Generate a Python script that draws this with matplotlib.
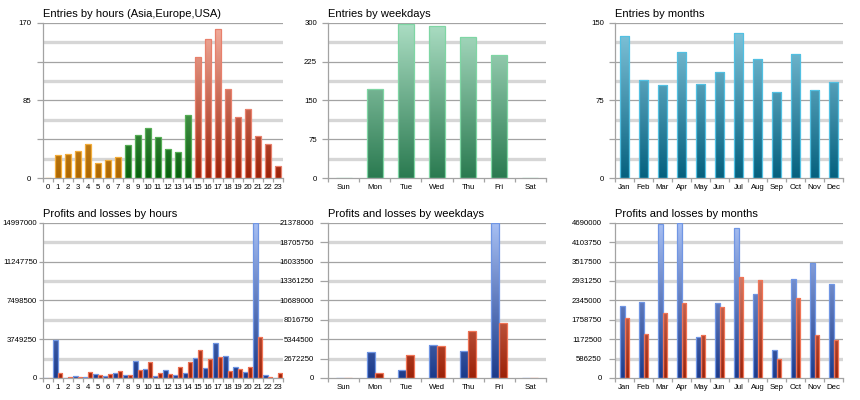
import numpy as np
import matplotlib
matplotlib.use("Agg")
import matplotlib.pyplot as plt
from matplotlib.colors import LinearSegmentedColormap

plt.rcParams['font.family'] = ['Liberation Sans', 'DejaVu Sans']

# ---------------- data ----------------
hours = [str(h) for h in range(24)]
hour_session = ['Asia'] * 8 + ['Europe'] * 7 + ['USA'] * 9
entries_by_hour = [0, 25, 26, 30, 37, 16, 20, 23, 36, 47, 55, 45, 32, 28, 69,
                   132, 152, 163, 97, 67, 75, 46, 37, 13]

weekdays = ['Sun', 'Mon', 'Tue', 'Wed', 'Thu', 'Fri', 'Sat']
entries_by_weekday = [0, 171, 297, 294, 273, 237, 0]

months = ['Jan', 'Feb', 'Mar', 'Apr', 'May', 'Jun', 'Jul', 'Aug', 'Sep', 'Oct', 'Nov', 'Dec']
entries_by_month = [137, 95, 90, 122, 91, 102, 140, 115, 83, 120, 85, 93]

profit_by_hour = [0, 3628800, 30000, 160000, 64000, 417000, 225000, 482000, 257000,
                  1670000, 867000, 160000, 739000, 257000, 482000, 1959000, 963000,
                  3372000, 2087000, 1060000, 546000, 14997000, 321000, 0]
loss_by_hour = [0, 481700, 60000, 96000, 578000, 321000, 417000, 642000, 257000,
                739000, 1541000, 482000, 417000, 1060000, 1574000, 2730000, 1830000,
                2023000, 642000, 867000, 1060000, 3982000, 96000, 514000]

profit_by_weekday = [0, 3616000, 1144000, 4532000, 3708000, 21378000, 0]
loss_by_weekday = [0, 732000, 3159000, 4440000, 6455000, 7553000, 0]

profit_by_month = [2169000, 2300000, 4640000, 4690000, 1225000, 2270000,
                   4519000, 2541000, 844000, 2993000, 3475000, 2852000]
loss_by_month = [1818000, 1326000, 1968000, 2270000, 1296000, 2139000,
                 3063000, 2963000, 562000, 2420000, 1296000, 1145000]

# axis maxima / tick labels
ymax_tl, ylabels_tl = 170, ['0', '', '85', '', '170']
ymax_tm, ylabels_tm = 300, ['0', '75', '150', '225', '300']
ymax_tr, ylabels_tr = 150, ['0', '', '75', '', '150']
ymax_bl, ylabels_bl = 14997000, ['0', '3749250', '7498500', '11247750', '14997000']
ymax_bm = 21378000
ylabels_bm = ['0', '2672250', '5344500', '8016750', '10689000', '13361250',
              '16033500', '18705750', '21378000']
ymax_br = 4690000
ylabels_br = ['0', '586250', '1172500', '1758750', '2345000', '2931250',
              '3517500', '4103750', '4690000']

# ---------------- styles ----------------
PALETTE = {
    'Asia':   ('#f9c468', '#ad6600', '#f2ad3c'),
    'Europe': ('#9ad89a', '#075f0c', '#56ae56'),
    'USA':    ('#f4b0a0', '#9c2208', '#e8806c'),
    'wk':     ('#acdec4', '#2a7a50', '#7fd6a4'),
    'mo':     ('#86c8de', '#05607e', '#52c0e2'),
    'pro':    ('#a8c0f4', '#1b3a8a', '#7096e4'),
    'los':    ('#f4a894', '#9c2208', '#f07456'),
}
DARK = '#a3a3a3'
LIGHT = '#d6d6d6'
FS = 5.6

fig = plt.figure(figsize=(8.6, 4.0), dpi=100)
W, H = 860.0, 400.0


def make_ax(l, r, t, b):
    return fig.add_axes([l / W, 1 - b / H, (r - l) / W, (b - t) / H])


grad = np.linspace(0, 1, 256).reshape(-1, 1)


def grad_bars(ax, x, h, width, key, ymax):
    top, bot, edge = PALETTE[key]
    cmap = LinearSegmentedColormap.from_list(key, [bot, top])
    bars = ax.bar(x, h, width, facecolor='none', edgecolor=edge, linewidth=0.9, zorder=3)
    for b in bars:
        if b.get_height() <= 0:
            continue
        x0, w = b.get_x(), b.get_width()
        im = ax.imshow(grad, extent=[x0, x0 + w, 0, ymax], origin='lower', cmap=cmap,
                       aspect='auto', zorder=2.5, interpolation='bilinear')
        im.set_clip_path(b)
    return bars


def style(ax, n, labels, ymax, ylabels, title, tick_len, tick_pad):
    ax.set_xlim(-0.5, n - 0.5)
    ax.set_ylim(0, ymax)
    for i in range(1, 9):
        y = ymax * i / 8
        if i % 2 == 0:
            ax.axhline(y, color=DARK, lw=0.9, zorder=1)
        else:
            ax.axhline(y, color=LIGHT, lw=2.4, zorder=1)
    for s in ['top', 'right']:
        ax.spines[s].set_visible(False)
    for s in ['left', 'bottom']:
        ax.spines[s].set_color(DARK)
        ax.spines[s].set_linewidth(0.9)
    ax.set_xticks(range(n))
    ax.set_xticklabels(labels, fontsize=FS)
    ax.set_xticks(np.arange(-0.5, n, 1.0), minor=True)
    ax.tick_params(axis='x', which='major', length=0, pad=4.5)
    ax.tick_params(axis='x', which='minor', length=3, color=DARK, width=0.9)
    ticks = np.linspace(0, ymax, len(ylabels))
    ax.set_yticks(ticks)
    ax.set_yticklabels(ylabels, fontsize=FS)
    ax.tick_params(axis='y', which='major', length=tick_len, color=DARK, width=0.9, pad=tick_pad)
    ax.set_title(title, loc='left', fontsize=8, pad=4)


# ---------------- top row ----------------
ax = make_ax(42.7, 283, 22.7, 178)
xh = np.arange(len(hours))
for sess in ['Asia', 'Europe', 'USA']:
    idx = [i for i, s in enumerate(hour_session) if s == sess]
    grad_bars(ax, xh[idx], np.array(entries_by_hour)[idx], 0.58, sess, ymax_tl)
style(ax, len(hours), hours, ymax_tl, ylabels_tl,
      'Entries by hours (Asia,Europe,USA)', 4.5, 3.6)

ax = make_ax(328.3, 545.7, 22.7, 178)
grad_bars(ax, np.arange(len(weekdays)), entries_by_weekday, 0.5, 'wk', ymax_tm)
style(ax, len(weekdays), weekdays, ymax_tm, ylabels_tm, 'Entries by weekdays', 4.5, 3.6)

ax = make_ax(615, 843, 22.7, 178)
grad_bars(ax, np.arange(len(months)), entries_by_month, 0.5, 'mo', ymax_tr)
style(ax, len(months), months, ymax_tr, ylabels_tr, 'Entries by months', 4.5, 3.6)

# ---------------- bottom row ----------------
ax = make_ax(42.7, 283, 222.7, 378)
grad_bars(ax, xh - 0.225, profit_by_hour, 0.45, 'pro', ymax_bl)
grad_bars(ax, xh + 0.225, loss_by_hour, 0.45, 'los', ymax_bl)
style(ax, len(hours), hours, ymax_bl, ylabels_bl, 'Profits and losses by hours', 3.0, 1.0)

ax = make_ax(328.3, 545.7, 222.7, 378)
xw = np.arange(len(weekdays))
grad_bars(ax, xw - 0.125, profit_by_weekday, 0.25, 'pro', ymax_bm)
grad_bars(ax, xw + 0.125, loss_by_weekday, 0.25, 'los', ymax_bm)
style(ax, len(weekdays), weekdays, ymax_bm, ylabels_bm,
      'Profits and losses by weekdays', 5.5, 5.0)

ax = make_ax(615, 843, 222.7, 378)
xm = np.arange(len(months))
grad_bars(ax, xm - 0.125, profit_by_month, 0.25, 'pro', ymax_br)
grad_bars(ax, xm + 0.125, loss_by_month, 0.25, 'los', ymax_br)
style(ax, len(months), months, ymax_br, ylabels_br,
      'Profits and losses by months', 4.5, 5.0)

fig.savefig('out.png', dpi=100)
